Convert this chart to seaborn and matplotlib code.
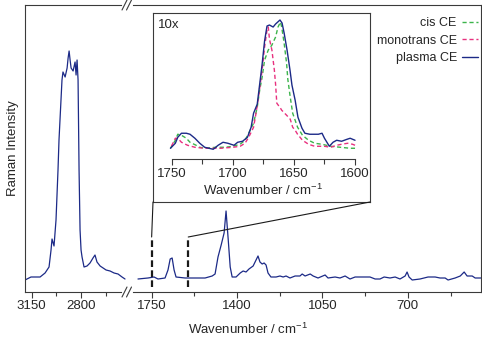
import matplotlib
matplotlib.use("Agg")
import matplotlib.pyplot as plt
import seaborn as sns
from matplotlib.lines import Line2D
from matplotlib.patches import ConnectionPatch

# ------------------------------------------------------------
# Data
# ------------------------------------------------------------

# plasma CE, high-wavenumber C-H stretch region
wn_ch = [3196, 3154, 3118, 3090, 3055, 3027, 3013, 3006, 2992, 2978,
         2964, 2957, 2943, 2936, 2929, 2914, 2900, 2893, 2886, 2879,
         2872, 2858, 2844, 2837, 2830, 2823, 2816, 2809, 2802, 2795,
         2781, 2760, 2739, 2718, 2704, 2690, 2668, 2647, 2626, 2598,
         2570, 2542, 2514, 2493]
int_ch = [10, 13, 13, 13, 17, 23, 40, 51, 44, 70,
          120, 150, 190, 210, 218, 213, 222, 232, 239, 230,
          222, 219, 228, 215, 230, 210, 120, 60, 40, 33,
          23, 24, 27, 32, 35, 28, 24, 22, 20, 19,
          17, 16, 13, 11]

# plasma CE, fingerprint region
wn_fp = [1806, 1765, 1740, 1724, 1695, 1683, 1674, 1666, 1658, 1650,
         1613, 1572, 1531, 1502, 1490, 1478, 1465, 1453, 1445, 1436,
         1428, 1420, 1404, 1387, 1375, 1363, 1351, 1334, 1322, 1314,
         1306, 1297, 1289, 1281, 1273, 1261, 1240, 1224, 1211, 1199,
         1183, 1162, 1142, 1133, 1121, 1100, 1088, 1068, 1039, 1027,
         998, 978, 957, 937, 916, 887, 855, 834, 814, 797,
         773, 752, 732, 711, 703, 695, 682, 650, 617, 588,
         568, 547, 535, 506, 485, 469, 457, 436, 424, 400]
int_fp = [11, 12, 13, 11, 12, 20, 31, 32, 20, 13,
          12, 12, 12, 14, 16, 33, 45, 57, 79, 50,
          23, 13, 13, 17, 19, 18, 21, 24, 30, 34,
          28, 26, 27, 25, 17, 13, 13, 14, 13, 14,
          12, 14, 14, 16, 14, 16, 14, 12, 15, 12,
          13, 12, 14, 11, 13, 13, 13, 11, 11, 13,
          12, 13, 11, 14, 18, 13, 10, 11, 13, 13,
          12, 12, 10, 12, 14, 18, 14, 14, 12, 12]

# 10x inset, C=C stretch
wn_plasma = [1751, 1747, 1745, 1742, 1738, 1735, 1731, 1727, 1723, 1716,
             1712, 1708, 1704, 1699, 1696, 1692, 1688, 1685, 1683, 1680,
             1678.6, 1676, 1674, 1672, 1670, 1667, 1665, 1661.4, 1659.7, 1658,
             1655.6, 1653.2, 1651.6, 1649, 1646.7, 1643.4, 1641, 1637, 1630, 1627,
             1625, 1621, 1618, 1615, 1611, 1606.5, 1604, 1600]
int_plasma = [11, 16, 22, 26, 26, 25, 21, 16, 12, 10,
              14, 17, 16, 14, 17, 18, 22, 32, 46, 55,
              69, 95, 118, 133, 134, 132, 135, 139, 136, 126,
              109, 89, 74, 59, 42, 31, 26, 25, 25, 26,
              21, 13, 17, 19, 18, 20, 21, 19]

wn_cis = [1751, 1747, 1745, 1742, 1738, 1735, 1730, 1727, 1723, 1714,
          1706, 1700, 1694, 1690, 1687, 1683, 1680, 1678, 1676, 1674,
          1671, 1668, 1665, 1663, 1661, 1660, 1658, 1656, 1655, 1653,
          1651, 1647, 1643, 1638, 1633, 1627, 1620, 1612, 1604, 1600]
int_cis = [11, 19, 25, 24, 21, 17, 14, 12, 11, 12,
           12, 13, 15, 19, 26, 36, 52, 69, 82, 99,
           109, 114, 122, 132, 137, 132, 116, 96, 80, 62,
           46, 32, 24, 19, 16, 15, 13, 12, 11, 11]

wn_mono = [1751, 1747, 1745, 1742, 1737, 1731, 1723, 1710, 1700, 1694,
           1690, 1687, 1683, 1681, 1679, 1676, 1674, 1672, 1671, 1670,
           1668, 1666, 1665, 1664, 1661, 1660, 1656, 1653, 1651, 1649,
           1647, 1643, 1638, 1633, 1625, 1620, 1615, 1611, 1606, 1602, 1600]
int_mono = [11, 21, 21, 17, 14, 12, 11, 11, 12, 13,
            16, 22, 32, 46, 62, 89, 112, 129, 132, 120,
            109, 89, 75, 56, 51, 49, 44, 40, 32, 29,
            25, 19, 15, 13, 13, 12, 14, 15, 16, 15, 14]

zoom_window = [1750, 1600]
zoom_height = 53

# ------------------------------------------------------------
# Style
# ------------------------------------------------------------
sns.set_theme(style="ticks")
plt.rcParams["font.family"] = ["Liberation Sans", "DejaVu Sans"]
plt.rcParams["mathtext.default"] = "regular"

NAVY = "#1c2a87"
GREEN = "#3cb44b"
PINK = "#e8317f"
FRAME = "#3a3a3a"
FS = 9.5
LW = 0.8

W, H = 482, 340
fig = plt.figure(figsize=(W / 100, H / 100), dpi=100)


def fig_box(x0, y0, x1, y1):
    """pixel box (top-left origin) -> figure rect"""
    return [x0 / W, 1 - y1 / H, (x1 - x0) / W, (y1 - y0) / H]


def px(x, y):
    return (x / W, 1 - y / H)


# ------------------------------------------------------------
# Main broken-axis spectrum
# ------------------------------------------------------------
ax_ch = fig.add_axes(fig_box(25, 5, 127, 292))
ax_fp = fig.add_axes(fig_box(127, 5, 481, 292))

sns.lineplot(x=wn_ch, y=int_ch, ax=ax_ch, color=NAVY, lw=0.9, legend=False)
sns.lineplot(x=wn_fp, y=int_fp, ax=ax_fp, color=NAVY, lw=0.9, legend=False)

ax_ch.set_xlim(3196, 2479)
ax_fp.set_xlim(1851, 400)
for ax in (ax_ch, ax_fp):
    ax.set_ylim(-2, 285)
    ax.set_yticks([])
    ax.set_xlabel("")
    for s in ax.spines.values():
        s.set_color(FRAME)
        s.set_linewidth(LW)
    ax.tick_params(axis="x", which="both", direction="out", color=FRAME,
                   width=LW, labelsize=FS, pad=2)
    ax.tick_params(axis="x", which="major", length=4)
    ax.tick_params(axis="x", which="minor", length=3)

ax_ch.spines["right"].set_visible(False)
ax_fp.spines["left"].set_visible(False)
ax_ch.spines["bottom"].set_bounds(3196, 2521)
ax_ch.spines["top"].set_bounds(3196, 2521)
ax_fp.spines["bottom"].set_bounds(1826, 400)
ax_fp.spines["top"].set_bounds(1826, 400)

ax_ch.set_xticks([3150, 2800])
ax_ch.set_xticks([2975, 2625], minor=True)
ax_fp.set_xticks([1750, 1400, 1050, 700])
ax_fp.set_xticks([1575, 1225, 875, 525], minor=True)

ax_ch.set_ylabel("Raman Intensity", fontsize=FS, labelpad=4)
ax_fp.set_ylabel("")

# break marks
for yb in (5, 292):
    for xc in (124.5, 129):
        (x0, y0), (x1, y1) = px(xc - 2.5, yb + 5), px(xc + 2.5, yb - 5)
        fig.add_artist(Line2D([x0, x1], [y0, y1], transform=fig.transFigure,
                              color=FRAME, lw=LW))

fig.text(248 / W, 1 - 334 / H, "Wavenumber / cm$^{-1}$", ha="center",
         va="baseline", fontsize=FS)

# zoom window markers
ax_fp.vlines(zoom_window, 3, zoom_height, colors="k", linestyles=(0, (3, 1.5)),
             lw=1.6)

# ------------------------------------------------------------
# Inset (10x)
# ------------------------------------------------------------
ax_box = fig.add_axes(fig_box(153, 13, 370, 202))
ax_box.set_xticks([])
ax_box.set_yticks([])
for s in ax_box.spines.values():
    s.set_color(FRAME)
    s.set_linewidth(LW)

ax_in = fig.add_axes(fig_box(168, 15, 358.7, 159.3))
ax_in.patch.set_visible(False)
sns.lineplot(x=wn_cis, y=int_cis, ax=ax_in, color=GREEN, lw=1.0,
             linestyle=(0, (3, 2)), label="cis CE", legend=False)
sns.lineplot(x=wn_mono, y=int_mono, ax=ax_in, color=PINK, lw=1.0,
             linestyle=(0, (3, 2)), label="monotrans CE", legend=False)
sns.lineplot(x=wn_plasma, y=int_plasma, ax=ax_in, color=NAVY, lw=1.0,
             label="plasma CE", legend=False)
ax_in.set_xlim(1753, 1597)
ax_in.set_ylim(0, 144)
ax_in.set_yticks([])
ax_in.set_ylabel("")
for side in ("left", "right", "top"):
    ax_in.spines[side].set_visible(False)
ax_in.spines["bottom"].set_bounds(1750, 1600)
ax_in.spines["bottom"].set_color(FRAME)
ax_in.spines["bottom"].set_linewidth(LW)
ax_in.set_xticks([1750, 1700, 1650, 1600])
ax_in.set_xticks([1725, 1675, 1625], minor=True)
ax_in.tick_params(axis="x", which="both", direction="out", color=FRAME,
                  width=LW, labelsize=FS, pad=2)
ax_in.tick_params(axis="x", which="major", length=4.5)
ax_in.tick_params(axis="x", which="minor", length=3.5)
ax_in.set_xlabel("Wavenumber / cm$^{-1}$", fontsize=FS, labelpad=2)

fig.text(158 / W, 1 - 28 / H, "10x", fontsize=FS, va="baseline")

# connector lines from the window markers to the inset box
for wn, corner in zip(zoom_window, [(153, 202), (370, 202)]):
    con = ConnectionPatch(xyA=(wn, zoom_height), coordsA=ax_fp.transData,
                          xyB=px(*corner), coordsB=fig.transFigure,
                          color="k", lw=LW)
    fig.add_artist(con)

# legend, labels on the left of the handles
handles, labels = ax_in.get_legend_handles_labels()
fig.legend(handles, labels, loc="upper right", bbox_to_anchor=px(478, 17),
           frameon=False, markerfirst=False, fontsize=9, handlelength=1.3,
           handletextpad=0.4, labelspacing=0.45, borderpad=0, borderaxespad=0)

fig.savefig("out.png", dpi=100)
